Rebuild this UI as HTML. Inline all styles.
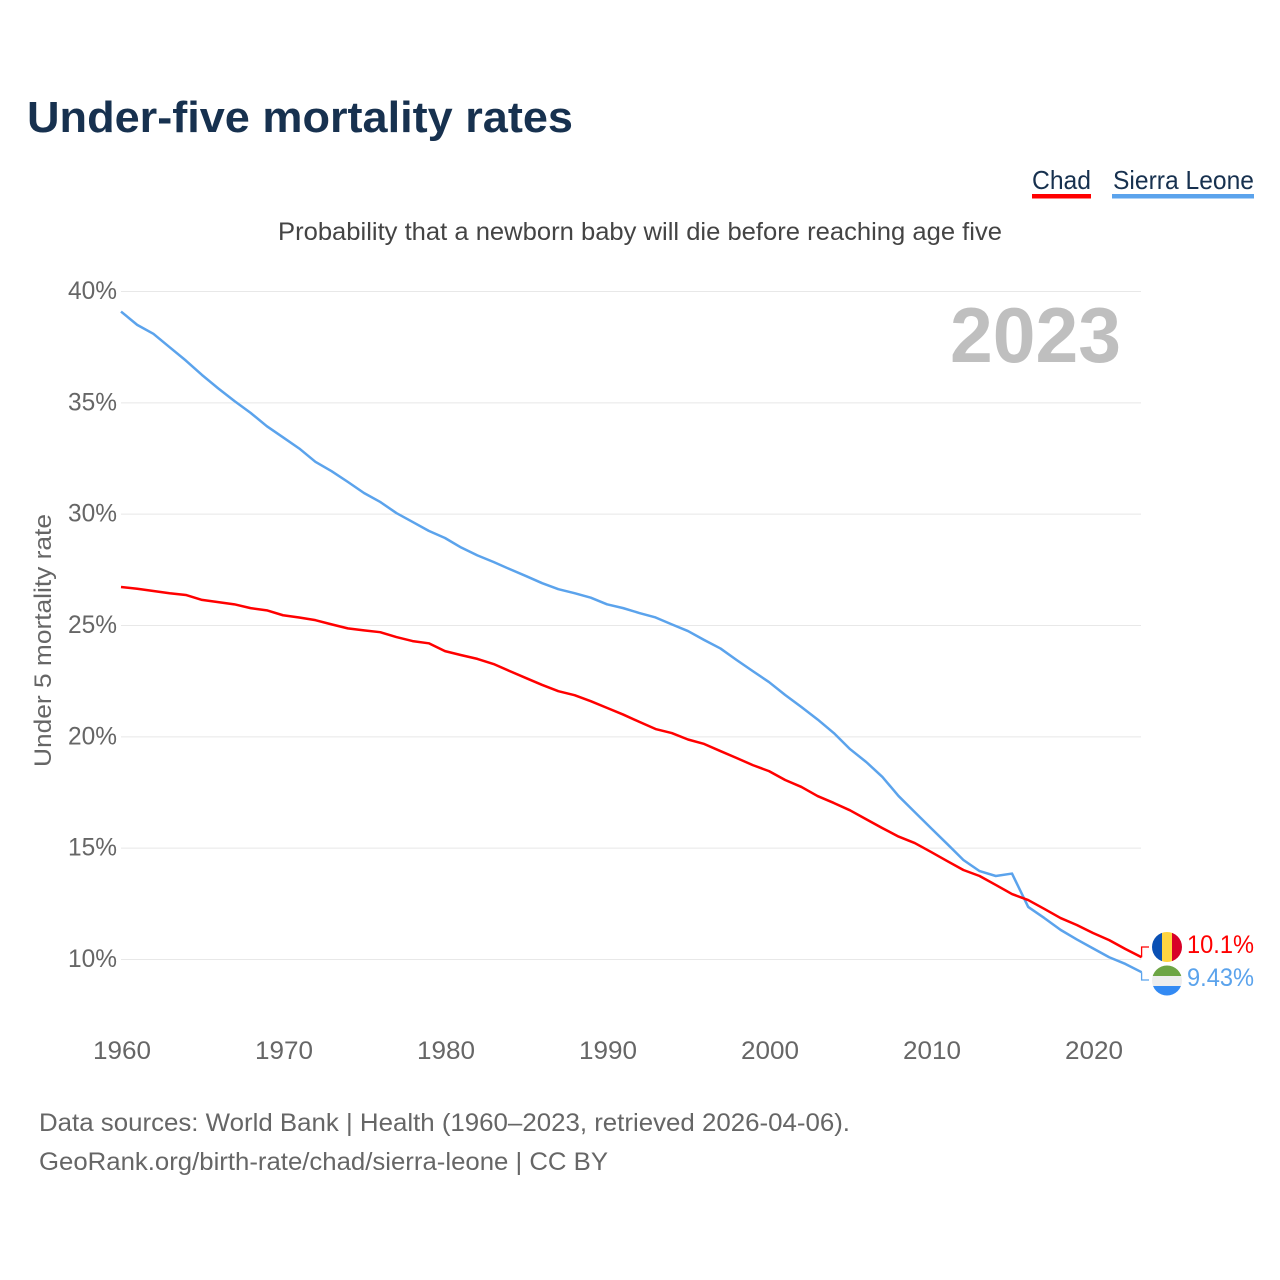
<!DOCTYPE html>
<html>
<head>
<meta charset="utf-8">
<title>Under-five mortality rates</title>
<style>
html,body{margin:0;padding:0;background:#fff;width:1280px;height:1280px;overflow:hidden}
svg{display:block}
text{font-family:"Liberation Sans",sans-serif}
</style>
</head>
<body>
<svg id="chart" xmlns="http://www.w3.org/2000/svg" width="1280" height="1280" viewBox="0 0 1280 1280">
  <rect x="0" y="0" width="1280" height="1280" fill="#ffffff"/>
  <text x="27" y="132" font-size="44" font-weight="700" fill="#17314f" textLength="546" lengthAdjust="spacingAndGlyphs">Under-five mortality rates</text>
  <g>
    <text x="1032" y="189" font-size="26" fill="#17314f" textLength="59" lengthAdjust="spacingAndGlyphs">Chad</text>
    <rect x="1032" y="194" width="59" height="4.5" fill="#ff0000"/>
  </g>
  <g>
    <text x="1113" y="189" font-size="26" fill="#17314f" textLength="141" lengthAdjust="spacingAndGlyphs">Sierra Leone</text>
    <rect x="1112" y="194" width="142" height="4.5" fill="#5ba3ec"/>
  </g>
  <text x="278" y="240" font-size="25" fill="#444444" textLength="724" lengthAdjust="spacingAndGlyphs">Probability that a newborn baby will die before reaching age five</text>
  <g id="grid"></g>
  <text x="950" y="362" font-size="78" font-weight="700" fill="#bfbfbf" textLength="171" lengthAdjust="spacingAndGlyphs">2023</text>
  <text transform="translate(51,767) rotate(-90)" x="0" y="0" font-size="24" fill="#666666" textLength="253" lengthAdjust="spacingAndGlyphs">Under 5 mortality rate</text>
  <g id="yticks"></g>
  <g id="xticks"></g>
  <g id="series"></g>
  <g>
    <clipPath id="clip-chad"><circle cx="1167" cy="947" r="15"/></clipPath>
    <g clip-path="url(#clip-chad)">
      <rect x="1152" y="932" width="10" height="30" fill="#0a50b4"/>
      <rect x="1162" y="932" width="10" height="30" fill="#ffd540"/>
      <rect x="1172" y="932" width="10" height="30" fill="#d80027"/>
    </g>
  </g>
  <g>
    <clipPath id="clip-sl"><circle cx="1167" cy="980.5" r="15"/></clipPath>
    <g clip-path="url(#clip-sl)">
      <rect x="1152" y="965" width="30" height="11" fill="#6da544"/>
      <rect x="1152" y="976" width="30" height="10" fill="#eeeeee"/>
      <rect x="1152" y="986" width="30" height="10" fill="#338af3"/>
    </g>
  </g>
  <text x="1187" y="953" font-size="25" fill="#ff0000" textLength="67" lengthAdjust="spacingAndGlyphs">10.1%</text>
  <text x="1187" y="986" font-size="25" fill="#5ba3ec" textLength="67" lengthAdjust="spacingAndGlyphs">9.43%</text>
  <text x="39" y="1131" font-size="25" fill="#666666" textLength="811" lengthAdjust="spacingAndGlyphs">Data sources: World Bank | Health (1960–2023, retrieved 2026-04-06).</text>
  <text x="39" y="1170" font-size="25" fill="#666666" textLength="569" lengthAdjust="spacingAndGlyphs">GeoRank.org/birth-rate/chad/sierra-leone | CC BY</text>
</svg>
<script>
const startYear = 1960;
const yTickValues = [10, 15, 20, 25, 30, 35, 40];
const xTickValues = [1960, 1970, 1980, 1990, 2000, 2010, 2020];
const chadValues = [
  26.73, 26.65, 26.55, 26.45, 26.37, 26.15, 26.05, 25.95, 25.78, 25.68,
  25.46, 25.36, 25.24, 25.05, 24.87, 24.78, 24.70, 24.48, 24.30, 24.20,
  23.85, 23.67, 23.50, 23.27, 22.95, 22.64, 22.33, 22.05, 21.87, 21.60,
  21.30, 21.00, 20.67, 20.35, 20.17, 19.88, 19.68, 19.36, 19.05, 18.73,
  18.46, 18.06, 17.75, 17.34, 17.03, 16.70, 16.30, 15.90, 15.52, 15.23,
  14.83, 14.42, 14.02, 13.75, 13.35, 12.94, 12.67, 12.27, 11.86, 11.55,
  11.19, 10.87, 10.47, 10.10
];
const sierraLeoneValues = [
  39.10, 38.50, 38.10, 37.50, 36.90, 36.25, 35.65, 35.08, 34.55, 33.95,
  33.45, 32.95, 32.35, 31.93, 31.45, 30.95, 30.55, 30.05, 29.65, 29.25,
  28.93, 28.50, 28.15, 27.85, 27.53, 27.22, 26.90, 26.63, 26.45, 26.25,
  25.95, 25.78, 25.56, 25.36, 25.05, 24.75, 24.35, 23.97, 23.45, 22.95,
  22.46, 21.88, 21.34, 20.78, 20.17, 19.45, 18.87, 18.20, 17.34, 16.62,
  15.90, 15.19, 14.47, 13.97, 13.75, 13.86, 12.36, 11.86, 11.33, 10.90,
  10.50, 10.10, 9.80, 9.43
];

const NS = 'http://www.w3.org/2000/svg';
const xScale = function (year) { return 121 + (year - 1960) * 16.2; };
const yScale = function (v) { return 959.5 - (v - 10) * 22.267; };

const gridGroup = document.getElementById('grid');
const yTickGroup = document.getElementById('yticks');
const xTickGroup = document.getElementById('xticks');
const seriesGroup = document.getElementById('series');

yTickValues.forEach(function (v) {
  const line = document.createElementNS(NS, 'line');
  
  
  line.setAttribute('x1', 121);
  line.setAttribute('x2', 1141);
  line.setAttribute('y1', yScale(v));
  line.setAttribute('y2', yScale(v));
  line.setAttribute('stroke', '#e8e8e8');
  line.setAttribute('stroke-width', '1');
  gridGroup.appendChild(line);

  const label = document.createElementNS(NS, 'text');
  
  
  label.setAttribute('x', 68);
  label.setAttribute('y', yScale(v) + 7.5);
  label.setAttribute('font-size', '25');
  label.setAttribute('fill', '#666666');
  label.setAttribute('textLength', '49');
  label.setAttribute('lengthAdjust', 'spacingAndGlyphs');
  label.textContent = v + '%';
  yTickGroup.appendChild(label);
});

xTickValues.forEach(function (t) {
  const label = document.createElementNS(NS, 'text');
  
  
  label.setAttribute('x', xScale(t) - 28);
  label.setAttribute('y', 1059);
  label.setAttribute('font-size', '25');
  label.setAttribute('fill', '#666666');
  label.setAttribute('textLength', '58');
  label.setAttribute('lengthAdjust', 'spacingAndGlyphs');
  label.textContent = t;
  xTickGroup.appendChild(label);
});

function pointsFor(values) {
  return values.map(function (v, i) {
    return xScale(startYear + i).toFixed(2) + ',' + yScale(v).toFixed(2);
  }).join(' ');
}

const blueLine = document.createElementNS(NS, 'polyline');


blueLine.setAttribute('points', pointsFor(sierraLeoneValues));
blueLine.setAttribute('fill', 'none');
blueLine.setAttribute('stroke', '#5ba3ec');
blueLine.setAttribute('stroke-width', '2.5');
blueLine.setAttribute('stroke-linejoin', 'round');
seriesGroup.appendChild(blueLine);

const redLine = document.createElementNS(NS, 'polyline');


redLine.setAttribute('points', pointsFor(chadValues));
redLine.setAttribute('fill', 'none');
redLine.setAttribute('stroke', '#ff0000');
redLine.setAttribute('stroke-width', '2.5');
redLine.setAttribute('stroke-linejoin', 'round');
seriesGroup.appendChild(redLine);

const endX = xScale(startYear + chadValues.length - 1);

const redConnector = document.createElementNS(NS, 'polyline');


redConnector.setAttribute('points', endX + ',' + yScale(chadValues[chadValues.length - 1]) + ' ' + endX + ',947 1149,947');
redConnector.setAttribute('fill', 'none');
redConnector.setAttribute('stroke', '#ff0000');
redConnector.setAttribute('stroke-width', '1.3');
seriesGroup.appendChild(redConnector);

const blueConnector = document.createElementNS(NS, 'polyline');


blueConnector.setAttribute('points', endX + ',' + yScale(sierraLeoneValues[sierraLeoneValues.length - 1]) + ' ' + endX + ',980 1149,980');
blueConnector.setAttribute('fill', 'none');
blueConnector.setAttribute('stroke', '#5ba3ec');
blueConnector.setAttribute('stroke-width', '1.3');
seriesGroup.appendChild(blueConnector);
</script>
</body>
</html>
